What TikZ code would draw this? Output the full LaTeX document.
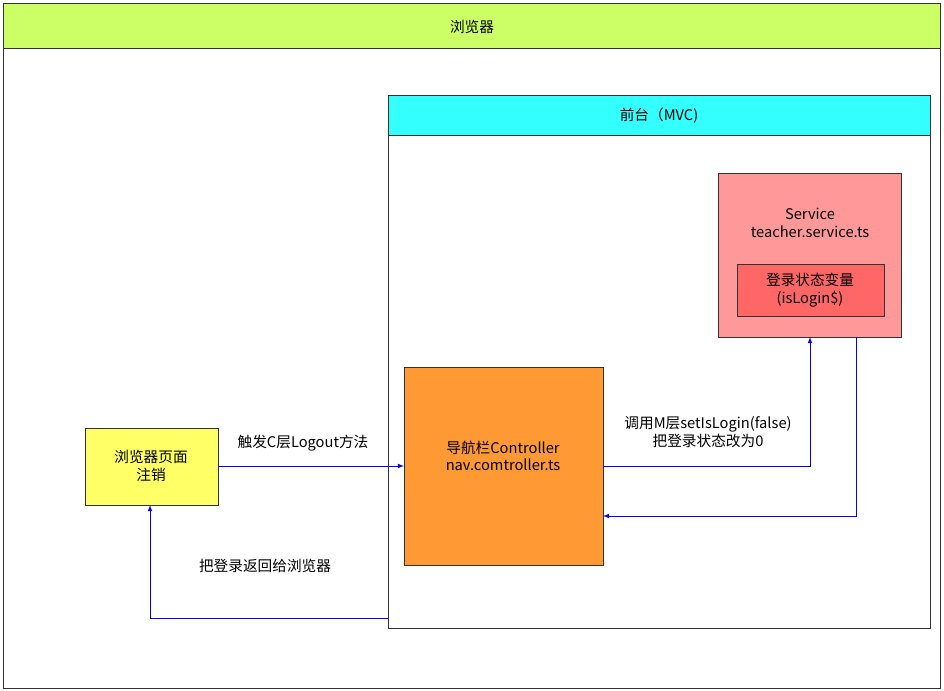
\documentclass[tikz,border=0pt]{standalone}
\usepackage{fontspec}
\setmainfont{Noto Sans CJK SC}
\usetikzlibrary{calc}
\definecolor{hdrgreen}{HTML}{CCFF66}
\definecolor{hdrcyan}{HTML}{33FFFF}
\definecolor{svcpink}{HTML}{FF9999}
\definecolor{varred}{HTML}{FF6666}
\definecolor{ctrlorange}{HTML}{FF9933}
\definecolor{pageyellow}{HTML}{FFFF66}
\tikzset{
  box/.style={draw=black!80, line width=0.6pt},
  lbl/.style={font=\fontsize{11}{13}\selectfont, align=center},
  flow/.style={draw=blue, line width=0.6pt, -latex},
}
\begin{document}
\begin{tikzpicture}[x=0.75pt, y=-0.75pt]
  \useasboundingbox (0,0) rectangle (944,690);

  % browser frame
  \draw[box] (3,3) rectangle (940,688);
  \draw[box, fill=hdrgreen] (3,3) rectangle (940,48);
  \node[lbl] (browser) at (472,27) {浏览器};

  % front end frame
  \draw[box, fill=white] (388,95) rectangle (930,628);
  \draw[box, fill=hdrcyan] (388,95) rectangle (930,135);
  \node[lbl] (front) at (659,116) {前台（MVC)};

  % service
  \draw[box, fill=svcpink] (718,173) rectangle (901,337);
  \node[lbl] (svc) at (810,223) {Service\\teacher.service.ts};
  \draw[box, fill=varred] (737,264) rectangle (884,316);
  \node[lbl] (var) at (810,290) {登录状态变量\\(isLogin\$)};

  % controller
  \draw[box, fill=ctrlorange] (404,367) rectangle (603,565);
  \node[lbl] (ctrl) at (503,456) {导航栏Controller\\nav.comtroller.ts};

  % browser page
  \draw[box, fill=pageyellow] (85,428) rectangle (218,505);
  \node[lbl] (page) at (151,466) {浏览器页面\\注销};

  \coordinate (pageR) at (218,466);
  \coordinate (ctrlL) at (404,466);
  \coordinate (ctrlR) at (603,466);
  \coordinate (ctrlRb) at (603,516);
  \coordinate (svcB) at (810,337);
  \coordinate (svcB2) at (856,337);
  \coordinate (frontL) at (388,618);
  \coordinate (pageB) at (150,505);

  \draw[flow] (pageR) -- (ctrlL);
  \draw[flow] (ctrlR) -| (svcB);
  \draw[flow] (svcB2) |- (ctrlRb);
  \draw[flow] (frontL) -| (pageB);

  \node[lbl] (callC) at (303,443) {触发C层Logout方法};
  \node[lbl] (callM) at (708,432) {调用M层setIsLogin(false)\\把登录状态改为0};
  \node[lbl] (back) at (265,566) {把登录返回给浏览器};
\end{tikzpicture}
\end{document}
